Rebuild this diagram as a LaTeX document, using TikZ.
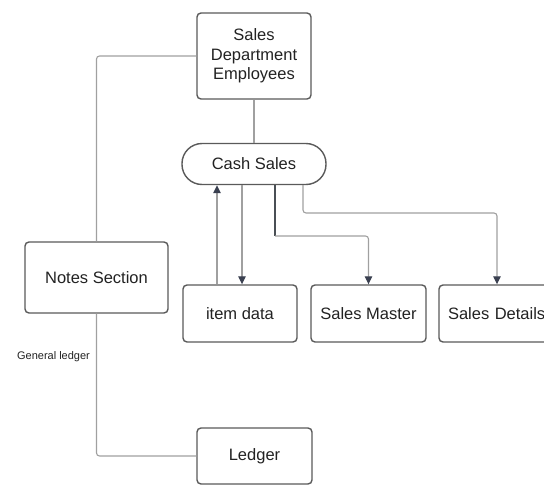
\documentclass[tikz,border=0pt]{standalone}
\usepackage{fontspec}
\setmainfont{Liberation Sans}
\usetikzlibrary{arrows.meta}
\definecolor{boxline}{HTML}{5A5A5A}
\definecolor{txt}{HTML}{222222}
\definecolor{conn}{HTML}{A0A0A0}
\definecolor{connd}{HTML}{4A4F55}
\definecolor{tip}{HTML}{3A4050}
\tikzset{
  box/.style={draw=boxline, line width=1.4pt, rounded corners=4pt, fill=white,
    text=txt, font=\fontsize{16.5}{19.5}\selectfont, align=center, inner sep=0pt},
  link/.style={draw=conn, line width=1.1pt, rounded corners=3pt},
  arr/.style={link, -{Triangle[length=8pt,width=7.5pt,color=tip]}},
}
\begin{document}
\begin{tikzpicture}[x=1pt,y=-1pt]
\useasboundingbox (0,0) rectangle (544,485);
\fill[white] (0,0) rectangle (544,485);
\node[box, minimum width=114pt, minimum height=86pt] (sde) at (254,56) {Sales\\Department\\Employees};
\node[box, minimum width=144pt, minimum height=41pt, rounded corners=20pt] (cash) at (254,164) {Cash Sales};
\node[box, minimum width=143pt, minimum height=71pt] (notes) at (96.5,277.5) {Notes Section};
\node[box, minimum width=114pt, minimum height=57pt] (item) at (240,313.5) {item data};
\node[box, minimum width=115pt, minimum height=57pt] (sm) at (368.5,313.5) {Sales Master};
\node[box, minimum width=116pt, minimum height=57pt, text width=116pt, align=left] (sd) at (497,313.5) {\hspace*{9pt}Sales Details};
\node[box, minimum width=115pt, minimum height=56pt] (ledger) at (254.5,456) {Ledger};
\node[text=txt, font=\fontsize{11}{13}\selectfont, inner sep=0pt] (gl) at (53.5,357) {General ledger};
\coordinate (xa) at (217,0);
\coordinate (xb) at (242,0);
\coordinate (xc) at (275,0);
\coordinate (xd) at (303,0);
\coordinate (ym) at (0,236);
\coordinate (yd) at (0,213);
\draw[link] (sde.west) -| (notes.north);
\draw[link] (sde.south) -- (cash.north);
\draw[link] (notes.south) |- (ledger.west);
\draw[arr] (item.north -| xa) -- (cash.south -| xa);
\draw[arr] (cash.south -| xb) -- (item.north -| xb);
\draw[link, draw=connd] (cash.south -| xc) -- (xc |- ym);
\draw[arr] (xc |- ym) -| (sm.north);
\draw[arr] (cash.south -| xd) -- (xd |- yd) -| (sd.north);
\end{tikzpicture}
\end{document}
